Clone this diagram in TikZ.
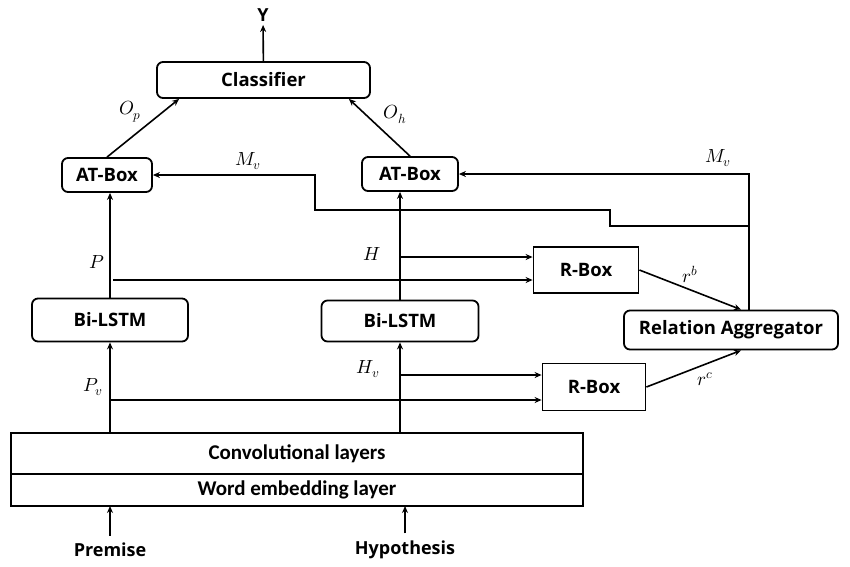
\documentclass[tikz,border=0pt]{standalone}
\usepackage{fontspec}
\usepackage{unicode-math}
\setmathfont{Latin Modern Math}
\setsansfont{Open Sans}
\newfontfamily\layerfont{Carlito}
\usetikzlibrary{positioning,arrows.meta}

\begin{document}
\begin{tikzpicture}[x=1pt, y=-1pt,
  b/.style={draw, line width=1.8pt, rounded corners=6pt, inner sep=0pt, font=\sffamily\bfseries\fontsize{18.5}{20}\selectfont},
  r/.style={b, rounded corners=0pt},
  l/.style={draw, line width=1.8pt, minimum width=572pt, outer sep=0pt, font=\layerfont\bfseries\fontsize{21}{24}\selectfont},
  t/.style={font=\sffamily\bfseries\fontsize{18}{20}\selectfont},
  m/.style={font=\fontsize{19}{22}\selectfont},
  a/.style={-{Stealth[length=7pt,width=6pt]}, line width=1.6pt}]
		\useasboundingbox (0,0) rectangle (850,566);

		\node[b, minimum width=213pt, minimum height=36pt] (cls) at (263.5,80) {Classifier};
		\node[t] (Y) at (263,15) {Y};
		\node[b, minimum width=90pt, minimum height=34pt] (atp) at (107,175) {AT-Box};
		\node[b, minimum width=96pt, minimum height=34pt] (ath) at (410,174) {AT-Box};
		\node[b, minimum width=156pt, minimum height=43pt] (lsp) at (110,320) {Bi-LSTM};
		\node[b, minimum width=157pt, minimum height=41pt] (lsh) at (400,321) {Bi-LSTM};
		\node[r, minimum width=105pt, minimum height=46pt] (rb) at (586,270) {R-Box};
		\node[r, minimum width=103pt, minimum height=47pt] (rc) at (594,387) {R-Box};
		\node[b, minimum width=214pt, minimum height=39pt] (agg) at (731,330) {Relation Aggregator};
		\node[l, minimum height=41pt] (conv) at (297,453.5) {Convolutional layers};
		\node[l, minimum height=32pt, below=0pt of conv] (emb) {Word embedding layer};
		\node[t] (prem) at (110,550) {Premise};
		\node[t] (hyp) at (405,550) {Hypothesis};

		\node[m] (lp) at (97,262) {$P$};
		\node[m] (lh) at (372,254) {$H$};
		\node[m] (lpv) at (93,387) {$P_v$};
		\node[m] (lhv) at (368,369) {$H_v$};
		\node[m] (mvl) at (248,161) {$M_v$};
		\node[m] (mvr) at (718,158) {$M_v$};

		\coordinate (pl) at (113,280);
		\coordinate (hl) at (400,257);
		\coordinate (pvl) at (110,400);
		\coordinate (hvl) at (400,375);
		\coordinate (mj) at (749,226);

		\draw[a] (cls) -- (Y);
		\draw[a] (atp.north) -- ([xshift=23pt]cls.south west) node[m, midway, above left=2pt and -2pt] {$O_p$};
		\draw[a] (ath.north) -- ([xshift=-22pt]cls.south east) node[m, midway, above right] {$O_h$};
		\draw[a] (lsp.north) -- (lsp.north |- atp.south);
		\draw[a] (lsh.north) -- (lsh.north |- ath.south);
		\draw[a] (lsp.south |- conv.north) -- (lsp.south);
		\draw[a] (lsh.south |- conv.north) -- (lsh.south);
		\draw[a] ([yshift=4pt]prem.north) -- (prem.north |- emb.south);
		\draw[a] ([yshift=4pt]hyp.north) -- (hyp.north |- emb.south);

		\draw[a] (pl) -- (pl -| rb.west);
		\draw[a] (hl) -- (hl -| rb.west);
		\draw[a] (pvl) -- (pvl -| rc.west);
		\draw[a] (hvl) -- (hvl -| rc.west);
		\draw[a] (rb.east) -- ([xshift=10pt]agg.north) node[m, midway, above=3pt] {$r^b$};
		\draw[a] (rc.east) -- ([xshift=10pt]agg.south) node[m, midway, below right] {$r^c$};

		\draw[a] ([xshift=18pt]agg.north) |- (ath.east);
		\draw[a] (mj) -- ++(-139,0) -- ++(0,-16) -- ++(-295,0) |- (atp.east);
\end{tikzpicture}
\end{document}
